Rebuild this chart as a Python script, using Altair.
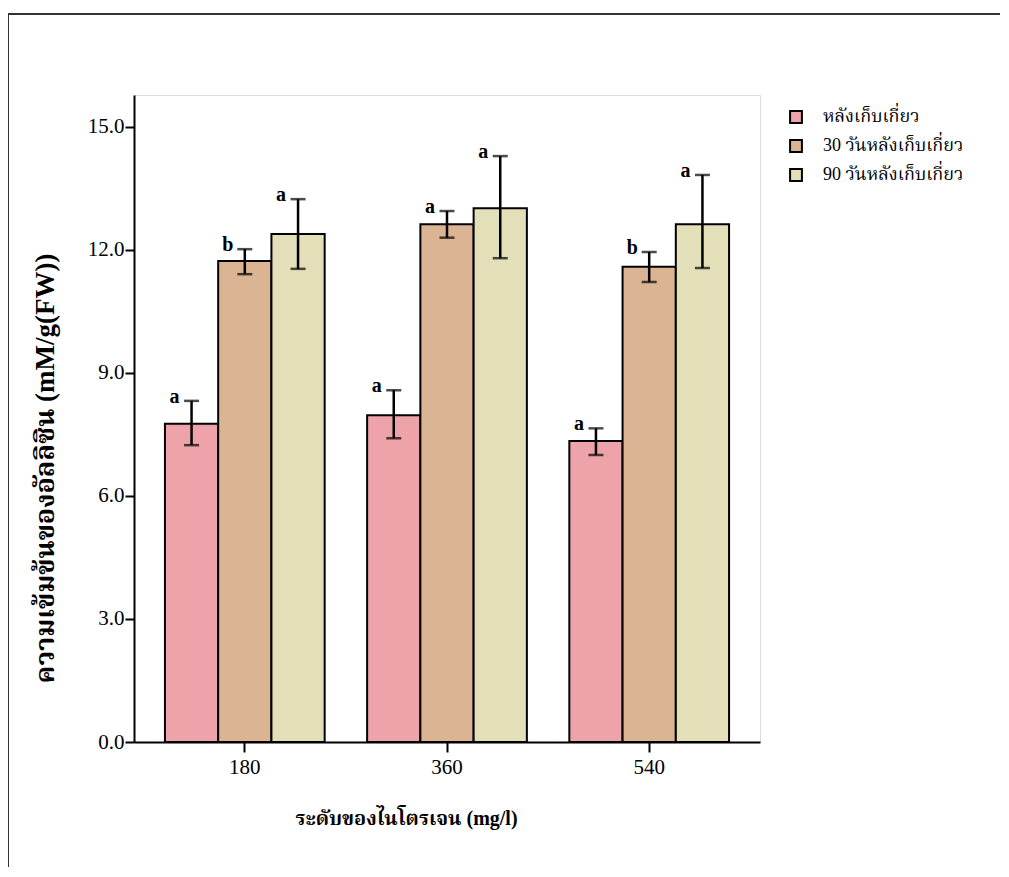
import altair as alt
import pandas as pd

groups = ["180", "360", "540"]
series = ["หลังเก็บเกี่ยว", "30 วันหลังเก็บเกี่ยว", "90 วันหลังเก็บเกี่ยว"]
means = [
    [7.76, 11.73, 12.39],
    [7.97, 12.63, 13.02],
    [7.34, 11.59, 12.63],
]
err_low = [
    [7.24, 11.41, 11.54],
    [7.41, 12.30, 11.80],
    [7.00, 11.22, 11.56],
]
err_high = [
    [8.32, 12.02, 13.24],
    [8.58, 12.95, 14.29],
    [7.65, 11.95, 13.83],
]
letters = [
    ["a", "b", "a"],
    ["a", "a", "a"],
    ["a", "b", "a"],
]
y_ticks = [0, 3, 6, 9, 12, 15]
colors = ["#eea3aa", "#dbb593", "#e3e0b9"]

rows = []
for gi, g in enumerate(groups):
    for si, s in enumerate(series):
        rows.append({
            "group": g, "series": s, "order": si,
            "mean": means[gi][si], "lo": err_low[gi][si], "hi": err_high[gi][si],
            "letter": letters[gi][si],
        })
df = pd.DataFrame(rows)

SERIF = "Liberation Serif, Times New Roman, Noto Serif Thai, Noto Sans Thai, serif"

x_enc = alt.X("group:N", sort=groups,
              scale=alt.Scale(paddingInner=0.21, paddingOuter=0.153),
              axis=alt.Axis(title="ระดับของไนโตรเจน (mg/l)", labelAngle=0,
                            labelFont=SERIF, labelFontSize=21, labelColor="black",
                            tickColor="black", tickSize=10, tickWidth=2,
                            labelPadding=4, domainColor="black", domainWidth=2,
                            titleFont=SERIF, titleFontSize=20, titleFontWeight="bold",
                            titleColor="black", titleX=272, titleY=66))
xo = alt.XOffset("series:N", sort=series, scale=alt.Scale(domain=series))

base = alt.Chart(df)

bars = base.mark_bar(stroke="black", strokeWidth=2).encode(
    x=x_enc,
    xOffset=xo,
    y=alt.Y("mean:Q",
            scale=alt.Scale(domain=[0, 15.78], nice=False, zero=True),
            axis=alt.Axis(values=y_ticks, format=".1f",
                          title="ความเข้มข้นของอัลลิซิน (mM/g(FW))",
                          labelFont=SERIF, labelFontSize=21, labelColor="black",
                          tickColor="black", tickSize=9, tickWidth=2, labelPadding=1,
                          domainColor="black", domainWidth=2, grid=False,
                          titleFont=SERIF, titleFontSize=27, titleFontWeight="bold",
                          titleColor="black", titleAngle=-90, titleX=-89, titleY=373,
                          titleAlign="center", titleBaseline="middle")),
    fill=alt.Fill("series:N", sort=series,
                  scale=alt.Scale(domain=series, range=colors),
                  legend=alt.Legend(title=None, orient="none", legendX=653, legendY=13,
                                    symbolType="square", symbolSize=140,
                                    symbolStrokeColor="black", symbolStrokeWidth=2,
                                    symbolOpacity=1, labelFont=SERIF, labelFontSize=18,
                                    labelColor="black", rowPadding=9, labelOffset=18)),
)

rules = base.mark_rule(color="black", strokeWidth=2.5).encode(
    x=alt.X("group:N", sort=groups),
    xOffset=xo,
    y="lo:Q",
    y2="hi:Q",
)

caps_hi = base.mark_tick(color="black", thickness=2.5, size=15, orient="horizontal").encode(
    x=alt.X("group:N", sort=groups), xOffset=xo, y="hi:Q")
caps_lo = base.mark_tick(color="black", thickness=2.5, size=15, orient="horizontal").encode(
    x=alt.X("group:N", sort=groups), xOffset=xo, y="lo:Q")

labels = base.mark_text(font=SERIF, fontSize=20, fontWeight="bold", color="black",
                        dx=-17, dy=2, baseline="alphabetic", align="center").encode(
    x=alt.X("group:N", sort=groups), xOffset=xo, y="hi:Q", text="letter:N")

frame_left = alt.Chart(df).mark_rule(color="#333333", strokeWidth=2).encode(
    x=alt.value(-126), y=alt.value(-81), y2=alt.value(900))
frame_top = alt.Chart(df).mark_rule(color="#333333", strokeWidth=2).encode(
    x=alt.value(-127), x2=alt.value(1000), y=alt.value(-81))

chart = alt.layer(bars, rules, caps_hi, caps_lo, labels, frame_left, frame_top).properties(
    width=626, height=647,
    autosize=alt.AutoSizeParams(type="none"),
    padding={"left": 126, "top": 87, "right": 240, "bottom": 125},
).configure_view(stroke="black", strokeWidth=2).configure(background="white")

chart.save("out.html", embed_options={"renderer": "svg", "actions": False})
